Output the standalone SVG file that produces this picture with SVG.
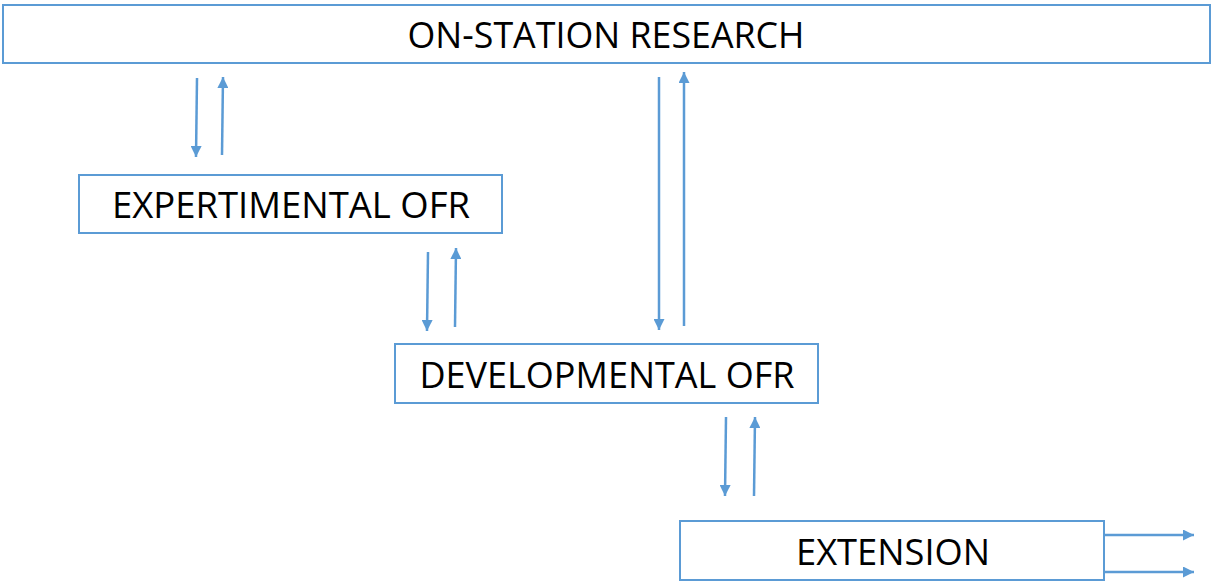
<svg xmlns="http://www.w3.org/2000/svg" width="1212" height="581" viewBox="0 0 1212 581">
<style>
.box{fill:#fff;stroke:#5b9bd5;stroke-width:2}
.lbl{font-family:"Open Sans","Liberation Sans",sans-serif;font-size:36px;fill:#000;text-anchor:middle}
.c{stroke:#5b9bd5;stroke-width:2.5;fill:none;marker-end:url(#ah)}
</style>
<defs>
<marker id="ah" viewBox="0 0 10 10" refX="10" refY="5" markerWidth="5" markerHeight="4.4" orient="auto" markerUnits="strokeWidth">
<path d="M0,0 L10,5 L0,10 z" fill="#5b9bd5"/>
</marker>
</defs>
<rect width="1212" height="581" fill="#fff"/>
<g id="n-onstation"><rect class="box" x="3" y="5" width="1207" height="58"/><text class="lbl" x="606" y="48" textLength="397" lengthAdjust="spacingAndGlyphs">ON-STATION RESEARCH</text></g>
<g id="n-experimental"><rect class="box" x="79" y="175" width="423" height="58"/><text class="lbl" x="291" y="218" textLength="358" lengthAdjust="spacingAndGlyphs">EXPERTIMENTAL OFR</text></g>
<g id="n-developmental"><rect class="box" x="395" y="344" width="423" height="59"/><text class="lbl" x="607" y="388" textLength="375" lengthAdjust="spacingAndGlyphs">DEVELOPMENTAL OFR</text></g>
<g id="n-extension"><rect class="box" x="680" y="521" width="424" height="59"/><text class="lbl" x="893" y="565" textLength="194" lengthAdjust="spacingAndGlyphs">EXTENSION</text></g>
<g id="connectors">
<line class="c" x1="197" y1="78" x2="196" y2="157"/>
<line class="c" x1="222" y1="155" x2="223" y2="77"/>
<line class="c" x1="428" y1="252" x2="427" y2="331"/>
<line class="c" x1="455" y1="327" x2="456" y2="248"/>
<line class="c" x1="659" y1="77" x2="659" y2="330"/>
<line class="c" x1="684" y1="326" x2="684" y2="72"/>
<line class="c" x1="726" y1="417" x2="725" y2="496"/>
<line class="c" x1="754" y1="496" x2="755" y2="417"/>
<line class="c" x1="1104" y1="535" x2="1194" y2="535"/>
<line class="c" x1="1104" y1="572" x2="1194" y2="572"/>
</g>
</svg>
